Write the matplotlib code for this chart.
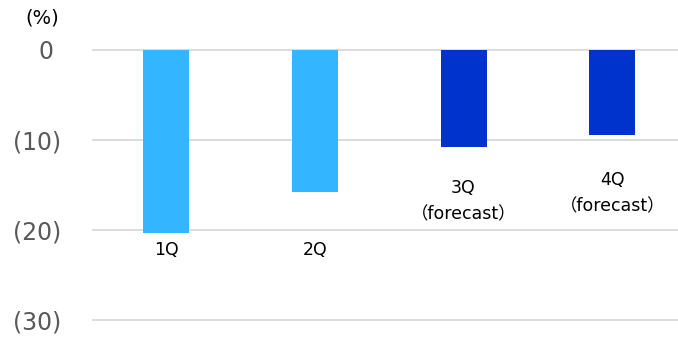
import matplotlib
matplotlib.use("Agg")
import matplotlib.pyplot as plt
import matplotlib.transforms as mtransforms

plt.rcParams['font.family'] = ['DejaVu Sans', 'Noto Sans CJK JP']

# quarterly change (%), negative values shown in parentheses
quarters = ['1Q', '2Q', '3Q\n（forecast）', '4Q\n（forecast）']
values = [-20.3, -15.8, -10.8, -9.5]
bar_colors = ['#33B5FF', '#33B5FF', '#0033CC', '#0033CC']
# vertical centre of each category label, in axis units
label_y = [-22.2, -22.2, -16.8, -15.9]

y_ticks = [0, -10, -20, -30]
y_ticklabels = ['0', '(10)', '(20)', '(30)']

fig = plt.figure(figsize=(6.78, 3.37), dpi=100)
ax = fig.add_axes([92 / 678, 0.0371, 1 - 92 / 678, 0.828])

x = list(range(len(values)))
ax.bar(x, values, width=0.31, color=bar_colors, zorder=2)

for xi, lab, ly in zip(x, quarters, label_y):
    ax.text(xi, ly, lab, ha='center', va='center', fontsize=12.5,
            color='black', linespacing=1.65)

ax.set_xlim(-0.5, 3.443)
ax.set_ylim(-30.5, 0.5)
ax.set_yticks(y_ticks)
ax.set_yticklabels(y_ticklabels, fontsize=17, color='#595959')
ax.tick_params(axis='y', length=0, pad=22)
ax.set_xticks([])
ax.grid(axis='y', color='#D9D9D9', linewidth=1.3, zorder=0)
for s in ax.spines.values():
    s.set_visible(False)

# "0" sits where the digits of the bracketed labels sit
zero_lab = ax.get_yticklabels()[0]
zero_lab.set_transform(zero_lab.get_transform() +
                       mtransforms.ScaledTranslation(-8 / 100, 0, fig.dpi_scale_trans))

fig.text(25 / 678, 1 - 18 / 337, '(%)', fontsize=14, color='black',
         ha='left', va='center')

fig.savefig('out.png', dpi=100)
